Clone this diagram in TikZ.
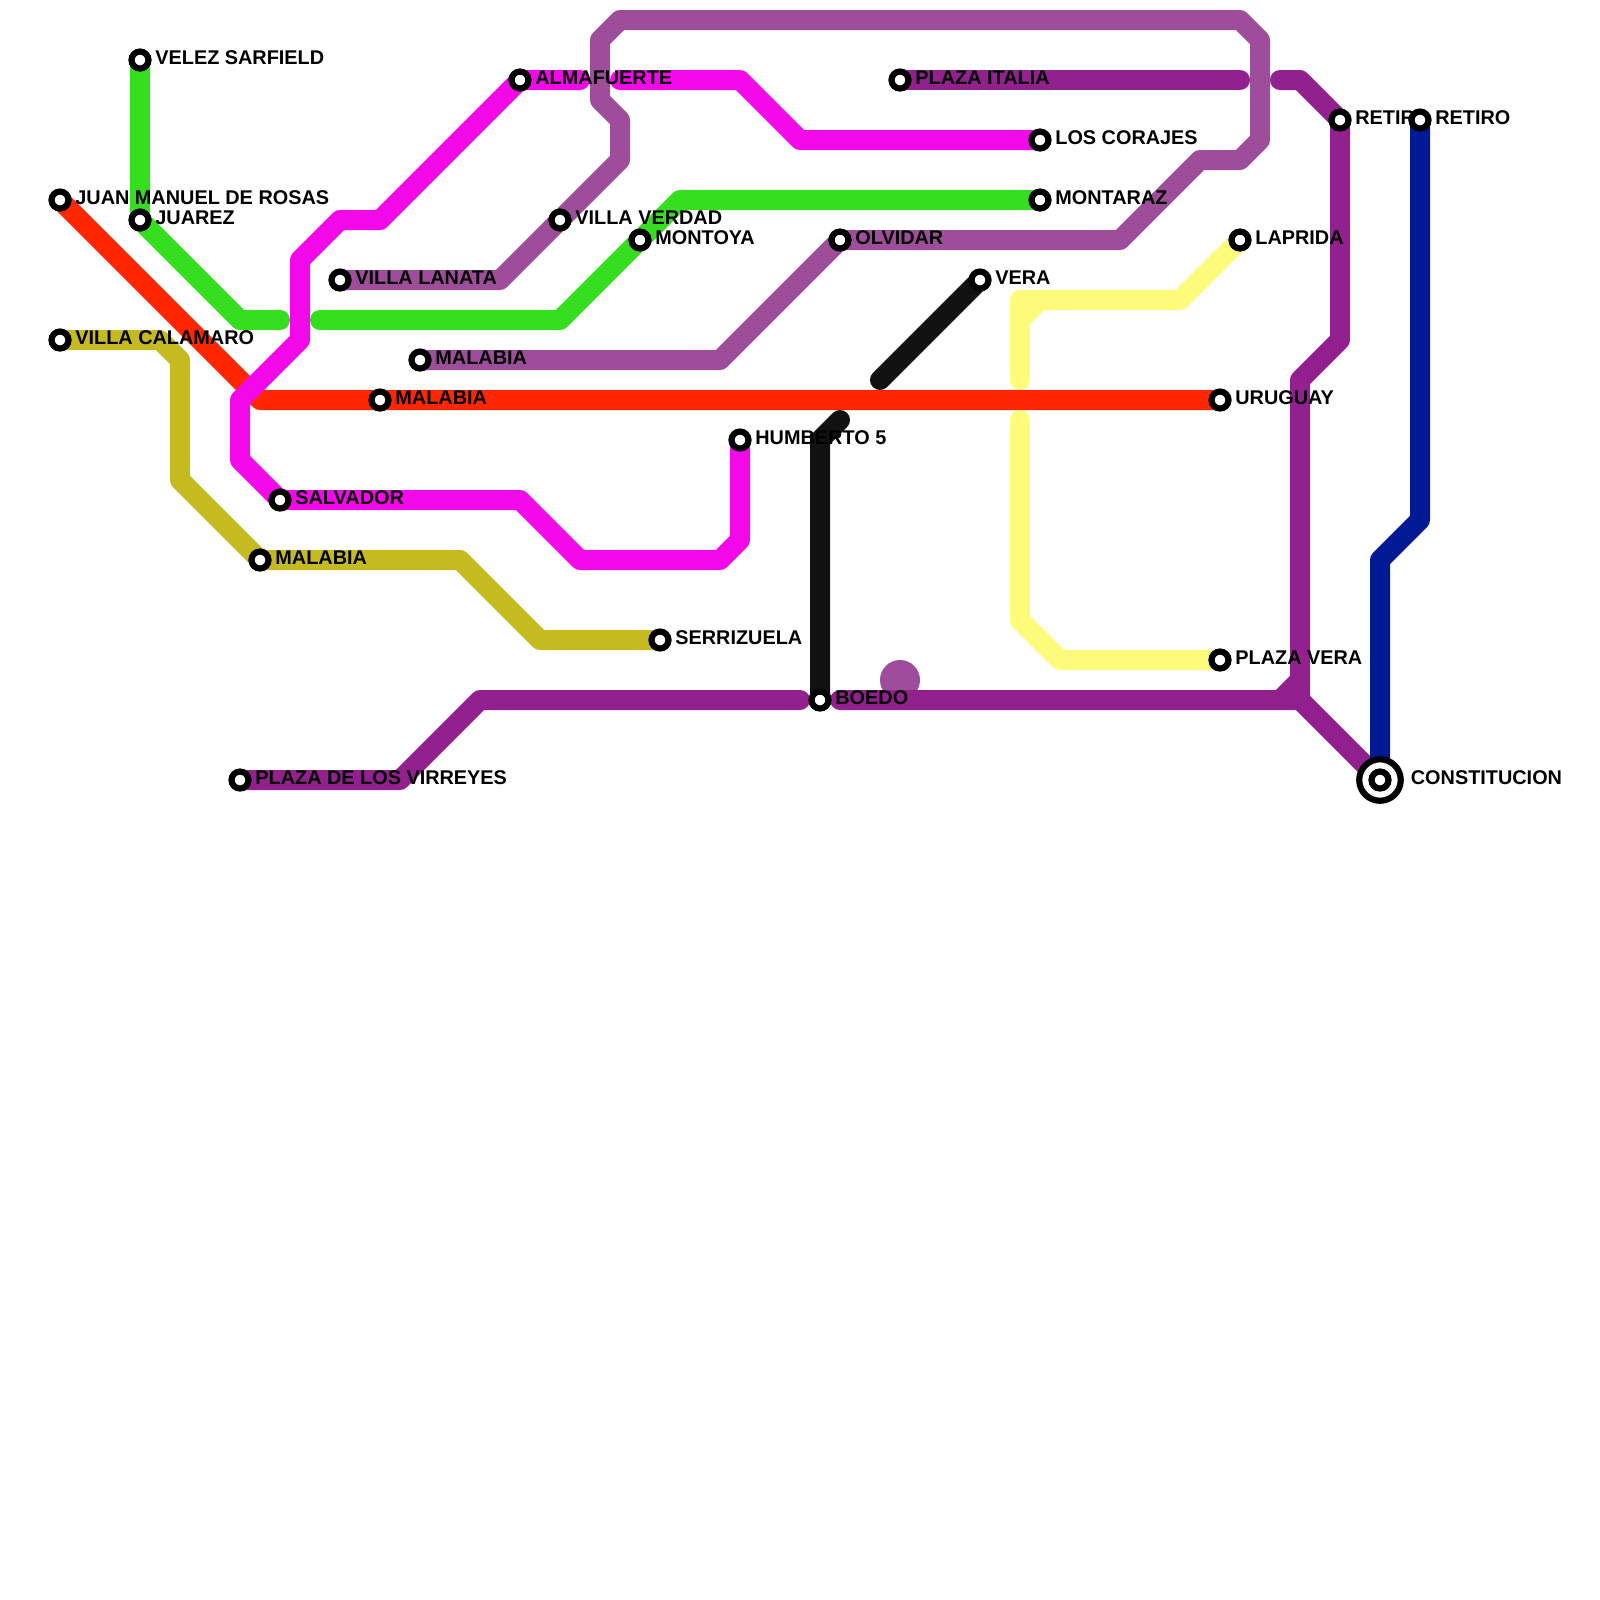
\documentclass[tikz,border=0pt]{standalone}
\usepackage{fontspec}
\setmainfont{Liberation Sans}
\definecolor{GreenClr}{HTML}{36DE20}
\definecolor{RedClr}{HTML}{FF2600}
\definecolor{PinkClr}{HTML}{F208E8}
\definecolor{MauveClr}{HTML}{9E4D9A}
\definecolor{OliveClr}{HTML}{C6BA21}
\definecolor{PurpleClr}{HTML}{93208F}
\definecolor{InkClr}{HTML}{111111}
\definecolor{LemonClr}{HTML}{FFFB7A}
\definecolor{NavyClr}{HTML}{001A96}
\tikzset{
  rail/.style={line width=2mm,line cap=round,line join=round},
  stn/.style={circle,draw=black,fill=white,line width=.62mm,minimum size=1.7mm,inner sep=0pt},
  stnbig/.style={circle,draw=black,fill=white,line width=.62mm,minimum size=4.15mm,inner sep=0pt},
  lbl/.style={anchor=base west,inner sep=0pt,xshift=1.47mm,yshift=-.47mm,
    font=\fontsize{5.65}{6}\selectfont\bfseries}
}

\begin{document}
\begin{tikzpicture}[x=.2cm,y=-.2cm]
\useasboundingbox (0,0) rectangle (80,80);

\coordinate (velez) at (7,3);
\coordinate (rosas) at (3,10);
\coordinate (juarez) at (7,11);
\coordinate (calamaro) at (3,17);
\coordinate (malabiaO) at (13,28);
\coordinate (serrizuela) at (33,32);
\coordinate (salvador) at (14,25);
\coordinate (malabiaR) at (19,20);
\coordinate (malabiaM) at (21,18);
\coordinate (lanata) at (17,14);
\coordinate (almafuerte) at (26,4);
\coordinate (verdad) at (28,11);
\coordinate (montoya) at (32,12);
\coordinate (humberto) at (37,22);
\coordinate (boedo) at (41,35);
\coordinate (olvidar) at (42,12);
\coordinate (italia) at (45,4);
\coordinate (vera) at (49,14);
\coordinate (corajes) at (52,7);
\coordinate (montaraz) at (52,10);
\coordinate (laprida) at (62,12);
\coordinate (uruguay) at (61,20);
\coordinate (plazavera) at (61,33);
\coordinate (retiroP) at (67,6);
\coordinate (retiroN) at (71,6);
\coordinate (constitucion) at (69,39);
\coordinate (virreyes) at (12,39);

\fill[MauveClr] (45,34) circle (1);

\draw[rail,OliveClr] (calamaro) -- (8,17) -- (9,18) -- (9,24) -- (malabiaO) -- (23,28) -- (27,32) -- (serrizuela);
\draw[rail,RedClr] (rosas) -- (13,20) -- (uruguay);
\draw[rail,GreenClr] (velez) -- (juarez) -- (12,16) -- (14,16);
\draw[rail,GreenClr] (16,16) -- (28,16) -- (montoya) -- (34,10) -- (montaraz);
\draw[rail,PinkClr] (humberto) -- (37,27) -- (36,28) -- (29,28) -- (26,25) -- (salvador) -- (12,23) -- (12,20) -- (15,17) -- (15,13) -- (17,11) -- (19,11) -- (almafuerte) -- (29,4);
\draw[rail,PinkClr] (31,4) -- (37,4) -- (40,7) -- (corajes);
\draw[rail,MauveClr] (lanata) -- (25,14) -- (verdad) -- (31,8) -- (31,6) -- (30,5) -- (30,2) -- (31,1) -- (62,1) -- (63,2) -- (63,7) -- (62,8) -- (60,8) -- (56,12) -- (olvidar) -- (36,18) -- (malabiaM);
\draw[rail,PurpleClr] (virreyes) -- (20,39) -- (24,35) -- (40,35);
\draw[rail,PurpleClr] (42,35) -- (65,35) -- (constitucion);
\draw[rail,PurpleClr] (64,35) -- (65,34);
\draw[rail,PurpleClr] (65,35) -- (65,19) -- (67,17) -- (retiroP) -- (65,4) -- (64,4);
\draw[rail,PurpleClr] (italia) -- (62,4);
\draw[rail,InkClr] (vera) -- (44,19);
\draw[rail,InkClr] (42,21) -- (41,22) -- (boedo);
\draw[rail,LemonClr] (laprida) -- (59,15) -- (51,15) -- (51,19);
\draw[rail,LemonClr] (52,15) -- (51,16);
\draw[rail,LemonClr] (51,21) -- (51,31) -- (53,33) -- (plazavera);
\draw[rail,NavyClr] (retiroN) -- (71,26) -- (69,28) -- (constitucion);

\node[lbl] (velezT) at (velez) {VELEZ SARFIELD};
\node[stn] (velezS) at (velez) {};
\node[lbl] (rosasT) at (rosas) {JUAN MANUEL DE ROSAS};
\node[stn] (rosasS) at (rosas) {};
\node[lbl] (juarezT) at (juarez) {JUAREZ};
\node[stn] (juarezS) at (juarez) {};
\node[lbl] (calamaroT) at (calamaro) {VILLA CALAMARO};
\node[stn] (calamaroS) at (calamaro) {};
\node[lbl] (malabiaOT) at (malabiaO) {MALABIA};
\node[stn] (malabiaOS) at (malabiaO) {};
\node[lbl] (serrizuelaT) at (serrizuela) {SERRIZUELA};
\node[stn] (serrizuelaS) at (serrizuela) {};
\node[lbl] (salvadorT) at (salvador) {SALVADOR};
\node[stn] (salvadorS) at (salvador) {};
\node[lbl] (malabiaRT) at (malabiaR) {MALABIA};
\node[stn] (malabiaRS) at (malabiaR) {};
\node[lbl] (malabiaMT) at (malabiaM) {MALABIA};
\node[stn] (malabiaMS) at (malabiaM) {};
\node[lbl] (lanataT) at (lanata) {VILLA LANATA};
\node[stn] (lanataS) at (lanata) {};
\node[lbl] (almafuerteT) at (almafuerte) {ALMAFUERTE};
\node[stn] (almafuerteS) at (almafuerte) {};
\node[lbl] (verdadT) at (verdad) {VILLA VERDAD};
\node[stn] (verdadS) at (verdad) {};
\node[lbl] (montoyaT) at (montoya) {MONTOYA};
\node[stn] (montoyaS) at (montoya) {};
\node[lbl] (humbertoT) at (humberto) {HUMBERTO 5};
\node[stn] (humbertoS) at (humberto) {};
\node[lbl] (boedoT) at (boedo) {BOEDO};
\node[stn] (boedoS) at (boedo) {};
\node[lbl] (olvidarT) at (olvidar) {OLVIDAR};
\node[stn] (olvidarS) at (olvidar) {};
\node[lbl] (italiaT) at (italia) {PLAZA ITALIA};
\node[stn] (italiaS) at (italia) {};
\node[lbl] (veraT) at (vera) {VERA};
\node[stn] (veraS) at (vera) {};
\node[lbl] (corajesT) at (corajes) {LOS CORAJES};
\node[stn] (corajesS) at (corajes) {};
\node[lbl] (montarazT) at (montaraz) {MONTARAZ};
\node[stn] (montarazS) at (montaraz) {};
\node[lbl] (lapridaT) at (laprida) {LAPRIDA};
\node[stn] (lapridaS) at (laprida) {};
\node[lbl] (uruguayT) at (uruguay) {URUGUAY};
\node[stn] (uruguayS) at (uruguay) {};
\node[lbl] (plazaveraT) at (plazavera) {PLAZA VERA};
\node[stn] (plazaveraS) at (plazavera) {};
\node[lbl] (retiroPT) at (retiroP) {RETIRO};
\node[stn] (retiroPS) at (retiroP) {};
\node[lbl] (retiroNT) at (retiroN) {RETIRO};
\node[stn] (retiroNS) at (retiroN) {};
\node[lbl] (virreyesT) at (virreyes) {PLAZA DE LOS VIRREYES};
\node[stn] (virreyesS) at (virreyes) {};
\node[lbl,xshift=1.55mm] (constitucionT) at (constitucion) {CONSTITUCION};
\node[stnbig] (constitucionB) at (constitucion) {};
\node[stn] (constitucionS) at (constitucion) {};

\end{tikzpicture}
\end{document}
